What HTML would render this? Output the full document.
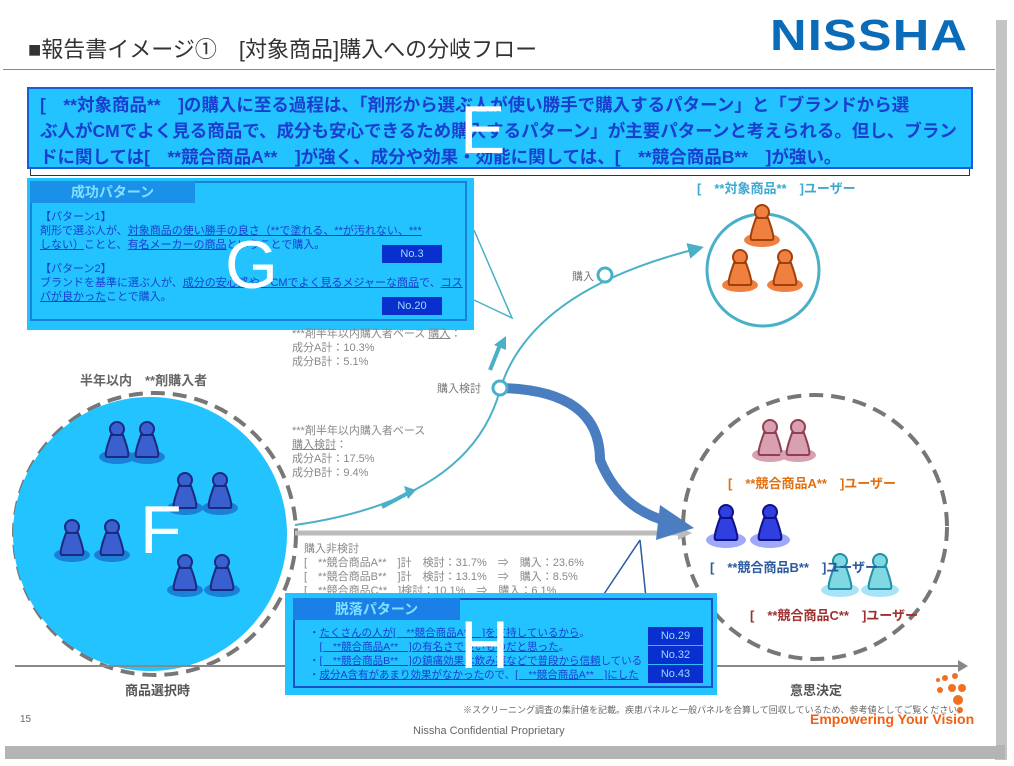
<!DOCTYPE html>
<html><head><meta charset="utf-8"><style>
body{margin:0;width:1014px;height:766px;background:#fff;position:relative;overflow:hidden;font-family:"Liberation Sans","Noto Sans CJK JP",sans-serif}
.a{position:absolute;white-space:nowrap}
.g{color:#888;font-size:11px;line-height:14px}
u{text-decoration:underline}
.no{position:absolute;background:#0a2fcf;color:#9fd8ff;font-size:11px;text-align:center;line-height:18px}
</style></head><body>
<div class="a" style="left:995px;top:20px;width:12px;height:740px;background:#c4c4c4"></div>
<div class="a" style="left:5px;top:745px;width:1000px;height:14px;background:#b4b4b4"></div>
<div class="a" style="left:0;top:0;width:996px;height:746px;background:#fff"></div>
<div class="a" style="left:28px;top:32px;font-size:22px;color:#333">■報告書イメージ①　[対象商品]購入への分岐フロー</div>
<div class="a" style="left:770px;top:14px;font-size:44px;font-weight:bold;color:#0a6bb8;letter-spacing:1px;line-height:44px;transform:scaleX(1.15);transform-origin:left">NISSHA</div>
<div class="a" style="left:3px;top:69px;width:992px;height:1px;background:#888"></div>

<svg class="a" style="left:0;top:0" width="1014" height="766">
<defs><marker id="m1" markerWidth="8" markerHeight="8" refX="6" refY="4" orient="auto"><path d="M0,0L8,4L0,8z" fill="#4ab0c8"/></marker></defs>
<circle cx="155" cy="534" r="141" fill="none" stroke="#777" stroke-width="4" stroke-dasharray="14,8"/>
<circle cx="150" cy="534" r="137" fill="#22c3ff"/>
<circle cx="815" cy="527" r="132" fill="none" stroke="#777" stroke-width="4" stroke-dasharray="14,8"/>
<circle cx="763" cy="270" r="56" fill="none" stroke="#4ab0c8" stroke-width="3"/>
<line x1="15" y1="666" x2="960" y2="666" stroke="#888" stroke-width="2"/>
<path d="M958,660L968,666L958,672z" fill="#888"/>
<line x1="295" y1="533" x2="680" y2="533" stroke="#bbb" stroke-width="5"/>
<path d="M678,526L692,533L678,540z" fill="#bbb"/>
<path d="M295,525 Q470,500 500,390 Q530,290 700,248" fill="none" stroke="#4ab0c8" stroke-width="2" marker-end="url(#m1)"/>
<path d="M500,388 Q600,390 600,460 Q620,510 670,522" fill="none" stroke="#4a7ec0" stroke-width="10"/>
<path d="M660,505L694,528L656,540z" fill="#4a7ec0"/>
<line x1="382" y1="507" x2="410" y2="492" stroke="#4ab0c8" stroke-width="4"/><path d="M404,486L416,490L408,499z" fill="#4ab0c8"/>
<line x1="490" y1="370" x2="500" y2="345" stroke="#4ab0c8" stroke-width="4"/><path d="M494,345L506,336L506,350z" fill="#4ab0c8"/>
<circle cx="500" cy="388" r="7" fill="#fff" stroke="#4ab0c8" stroke-width="3"/>
<circle cx="605" cy="275" r="7" fill="#fff" stroke="#4ab0c8" stroke-width="3"/>
<path d="M474,230 L512,318 L474,300" fill="none" stroke="#4ab0c8" stroke-width="1.5"/>
<path d="M640,540 L600,600 M640,540 L646,598" stroke="#2a5aa0" stroke-width="1.5" fill="none"/>
<g fill="#f08040" stroke="#a0400a" stroke-width="2">
<ellipse cx="762" cy="240" rx="18" ry="7" stroke="none"/><circle cx="762" cy="212" r="7"/><path d="M756,218Q748,240 752,240L772,240Q776,240 768,218z"/>
<ellipse cx="740" cy="285" rx="18" ry="7" stroke="none"/><circle cx="740" cy="257" r="7"/><path d="M734,263Q726,285 730,285L750,285Q754,285 746,263z"/>
<ellipse cx="785" cy="285" rx="18" ry="7" stroke="none"/><circle cx="785" cy="257" r="7"/><path d="M779,263Q771,285 775,285L795,285Q799,285 791,263z"/>
</g>
<g fill="#d8a0b0" stroke="#904050" stroke-width="2">
<ellipse cx="770" cy="455" rx="18" ry="7" stroke="none"/><circle cx="770" cy="427" r="7"/><path d="M764,433Q756,455 760,455L780,455Q784,455 776,433z"/>
<ellipse cx="798" cy="455" rx="18" ry="7" stroke="none"/><circle cx="798" cy="427" r="7"/><path d="M792,433Q784,455 788,455L808,455Q812,455 804,433z"/>
</g>
<g fill="#3040e0" stroke="#10108a" stroke-width="2">
<ellipse cx="726" cy="540" rx="20" ry="8" fill="#a0a8f8" stroke="none"/><circle cx="726" cy="512" r="7"/><path d="M720,518Q712,540 716,540L736,540Q740,540 732,518z"/>
<ellipse cx="770" cy="540" rx="20" ry="8" fill="#a0a8f8" stroke="none"/><circle cx="770" cy="512" r="7"/><path d="M764,518Q756,540 760,540L780,540Q784,540 776,518z"/>
</g>
<g fill="#80d8e0" stroke="#2090a8" stroke-width="2">
<ellipse cx="840" cy="590" rx="19" ry="7" fill="#a8e4f8" stroke="none"/><circle cx="840" cy="561" r="7"/><path d="M834,567Q826,589 830,589L850,589Q854,589 846,567z"/>
<ellipse cx="880" cy="590" rx="19" ry="7" fill="#a8e4f8" stroke="none"/><circle cx="880" cy="561" r="7"/><path d="M874,567Q866,589 870,589L890,589Q894,589 886,567z"/>
</g>
<g fill="#3a60d0" stroke="#1a2a80" stroke-width="2">
<ellipse cx="117" cy="457" rx="18" ry="7" fill="#1a80d8" stroke="none"/><circle cx="117" cy="429" r="7"/><path d="M111,435Q103,457 107,457L127,457Q131,457 123,435z"/>
<ellipse cx="147" cy="457" rx="18" ry="7" fill="#1a80d8" stroke="none"/><circle cx="147" cy="429" r="7"/><path d="M141,435Q133,457 137,457L157,457Q161,457 153,435z"/>
<ellipse cx="185" cy="508" rx="18" ry="7" fill="#1a80d8" stroke="none"/><circle cx="185" cy="480" r="7"/><path d="M179,486Q171,508 175,508L195,508Q199,508 191,486z"/>
<ellipse cx="220" cy="508" rx="18" ry="7" fill="#1a80d8" stroke="none"/><circle cx="220" cy="480" r="7"/><path d="M214,486Q206,508 210,508L230,508Q234,508 226,486z"/>
<ellipse cx="72" cy="555" rx="18" ry="7" fill="#1a80d8" stroke="none"/><circle cx="72" cy="527" r="7"/><path d="M66,533Q58,555 62,555L82,555Q86,555 78,533z"/>
<ellipse cx="112" cy="555" rx="18" ry="7" fill="#1a80d8" stroke="none"/><circle cx="112" cy="527" r="7"/><path d="M106,533Q98,555 102,555L122,555Q126,555 118,533z"/>
<ellipse cx="185" cy="590" rx="18" ry="7" fill="#1a80d8" stroke="none"/><circle cx="185" cy="562" r="7"/><path d="M179,568Q171,590 175,590L195,590Q199,590 191,568z"/>
<ellipse cx="222" cy="590" rx="18" ry="7" fill="#1a80d8" stroke="none"/><circle cx="222" cy="562" r="7"/><path d="M216,568Q208,590 212,590L232,590Q236,590 228,568z"/>
</g>
<g fill="#f07020"><circle cx="958" cy="700" r="5"/><circle cx="952" cy="688" r="4"/><circle cx="962" cy="688" r="4"/><circle cx="945" cy="678" r="3"/><circle cx="955" cy="676" r="3"/><circle cx="938" cy="680" r="2"/><circle cx="940" cy="690" r="3"/><circle cx="960" cy="710" r="3"/></g>
</svg>

<div class="a" style="left:30px;top:90px;width:938px;height:84px;border:1px solid #333"></div>
<div class="a" style="left:27px;top:87px;width:946px;height:82px;background:#22c3ff;border:2px solid #1a5adf;box-sizing:border-box"></div>
<div class="a" style="left:40px;top:92px;font-size:17.5px;line-height:26px;color:#1a3fcf;font-weight:bold">[　**対象商品**　]の購入に至る過程は、「剤形から選ぶ人が使い勝手で購入するパターン」と「ブランドから選<br>ぶ人がCMでよく見る商品で、成分も安心できるため購入するパターン」が主要パターンと考えられる。但し、ブラン<br>ドに関しては[　**競合商品A**　]が強く、成分や効果・効能に関しては、[　**競合商品B**　]が強い。</div>
<div class="a" style="left:460px;top:95px;font-size:68px;color:#fff;line-height:70px">E</div>

<div class="a" style="left:27px;top:178px;width:447px;height:152px;background:#22c3ff"></div>
<div class="a" style="left:30px;top:181px;width:437px;height:140px;border:2px solid #1a80d8;box-sizing:border-box"></div>
<div class="a" style="left:30px;top:181px;width:165px;height:22px;background:#1a90e8;color:#7fe0ff;font-size:14px;font-weight:bold;line-height:22px;text-align:center">成功パターン</div>
<div class="a" style="left:40px;top:210px;font-size:11px;line-height:14px;color:#1a3fcf">【パターン1】<br>剤形で選ぶ人が、<u>対象商品の使い勝手の良さ（**で塗れる、**が汚れない、***</u><br><u>しない）</u>ことと、<u>有名メーカーの商品</u>ということで購入。</div>
<div class="a" style="left:40px;top:262px;font-size:11px;line-height:14px;color:#1a3fcf">【パターン2】<br>ブランドを基準に選ぶ人が、<u>成分の安心感や、CMでよく見るメジャーな商品</u>で、<u>コス</u><br><u>パが良かった</u>ことで購入。</div>
<div class="no" style="left:382px;top:245px;width:60px">No.3</div>
<div class="no" style="left:382px;top:297px;width:60px">No.20</div>
<div class="a" style="left:225px;top:225px;font-size:68px;color:#fff;line-height:80px">G</div>

<div class="a g" style="left:292px;top:327px">***剤半年以内購入者ベース <u>購入</u>：<br>成分A計：10.3%<br>成分B計：5.1%</div>
<div class="a g" style="left:292px;top:424px">***剤半年以内購入者ベース<br><u>購入検討</u>：<br>成分A計：17.5%<br>成分B計：9.4%</div>
<div class="a" style="left:437px;top:380px;font-size:11px;color:#777">購入検討</div>
<div class="a" style="left:572px;top:268px;font-size:11px;color:#777">購入</div>
<div class="a g" style="left:304px;top:542px">購入非検討<br>[　**競合商品A**　]計　検討：31.7%　⇒　購入：23.6%<br>[　**競合商品B**　]計　検討：13.1%　⇒　購入：8.5%<br>[　**競合商品C**　]検討：10.1%　⇒　購入：6.1%</div>
<div class="a" style="left:80px;top:370px;font-size:13px;font-weight:bold;color:#666">半年以内　**剤購入者</div>
<div class="a" style="left:140px;top:490px;font-size:68px;color:#fff;line-height:80px">F</div>

<div class="a" style="left:697px;top:178px;font-size:13px;font-weight:bold;color:#40a8d0">[　**対象商品**　]ユーザー</div>
<div class="a" style="left:728px;top:473px;font-size:13px;font-weight:bold;color:#e07010">[　**競合商品A**　]ユーザー</div>
<div class="a" style="left:710px;top:557px;font-size:13px;font-weight:bold;color:#2a5aa0">[　**競合商品B**　]ユーザー</div>
<div class="a" style="left:750px;top:605px;font-size:13px;font-weight:bold;color:#a03030">[　**競合商品C**　]ユーザー</div>

<div class="a" style="left:285px;top:593px;width:432px;height:102px;background:#22c3ff"></div>
<div class="a" style="left:293px;top:598px;width:420px;height:90px;border:2px solid #1a50c8;box-sizing:border-box"></div>
<div class="a" style="left:293px;top:598px;width:167px;height:22px;background:#1a80e8;color:#7fe0ff;font-size:14px;font-weight:bold;line-height:22px;text-align:center">脱落パターン</div>
<div class="a" style="left:309px;top:626px;font-size:10.5px;line-height:14px;color:#1a3fcf">・<u>たくさんの人が[　**競合商品A**　]を支持しているから</u>。<br>　<u>[　**競合商品A**　]の有名さで良いものだと思った</u>。<br>・<u>[　**競合商品B**　]の鎮痛効果は飲み薬などで普段から信頼</u>している<br>・<u>成分A含有があまり効果がなかった</u>ので、<u>[　**競合商品A**　]にした</u></div>
<div class="no" style="left:648px;top:627px;width:55px">No.29</div>
<div class="no" style="left:648px;top:646px;width:55px">No.32</div>
<div class="no" style="left:648px;top:665px;width:55px">No.43</div>
<div class="a" style="left:460px;top:605px;font-size:68px;color:#fff;line-height:80px">H</div>

<div class="a" style="left:125px;top:680px;font-size:13px;font-weight:bold;color:#555">商品選択時</div>
<div class="a" style="left:790px;top:680px;font-size:13px;font-weight:bold;color:#555">意思決定</div>
<div class="a" style="left:463px;top:703px;font-size:9px;color:#666">※スクリーニング調査の集計値を記載。疾患パネルと一般パネルを合算して回収しているため、参考値としてご覧ください。</div>
<div class="a" style="left:810px;top:711px;font-size:14px;font-weight:bold;color:#f06010">Empowering Your Vision</div>
<div class="a" style="left:20px;top:714px;font-size:10px;color:#666">15</div>
<div class="a" style="left:413px;top:725px;font-size:11px;color:#666">Nissha Confidential Proprietary</div>
</body></html>
